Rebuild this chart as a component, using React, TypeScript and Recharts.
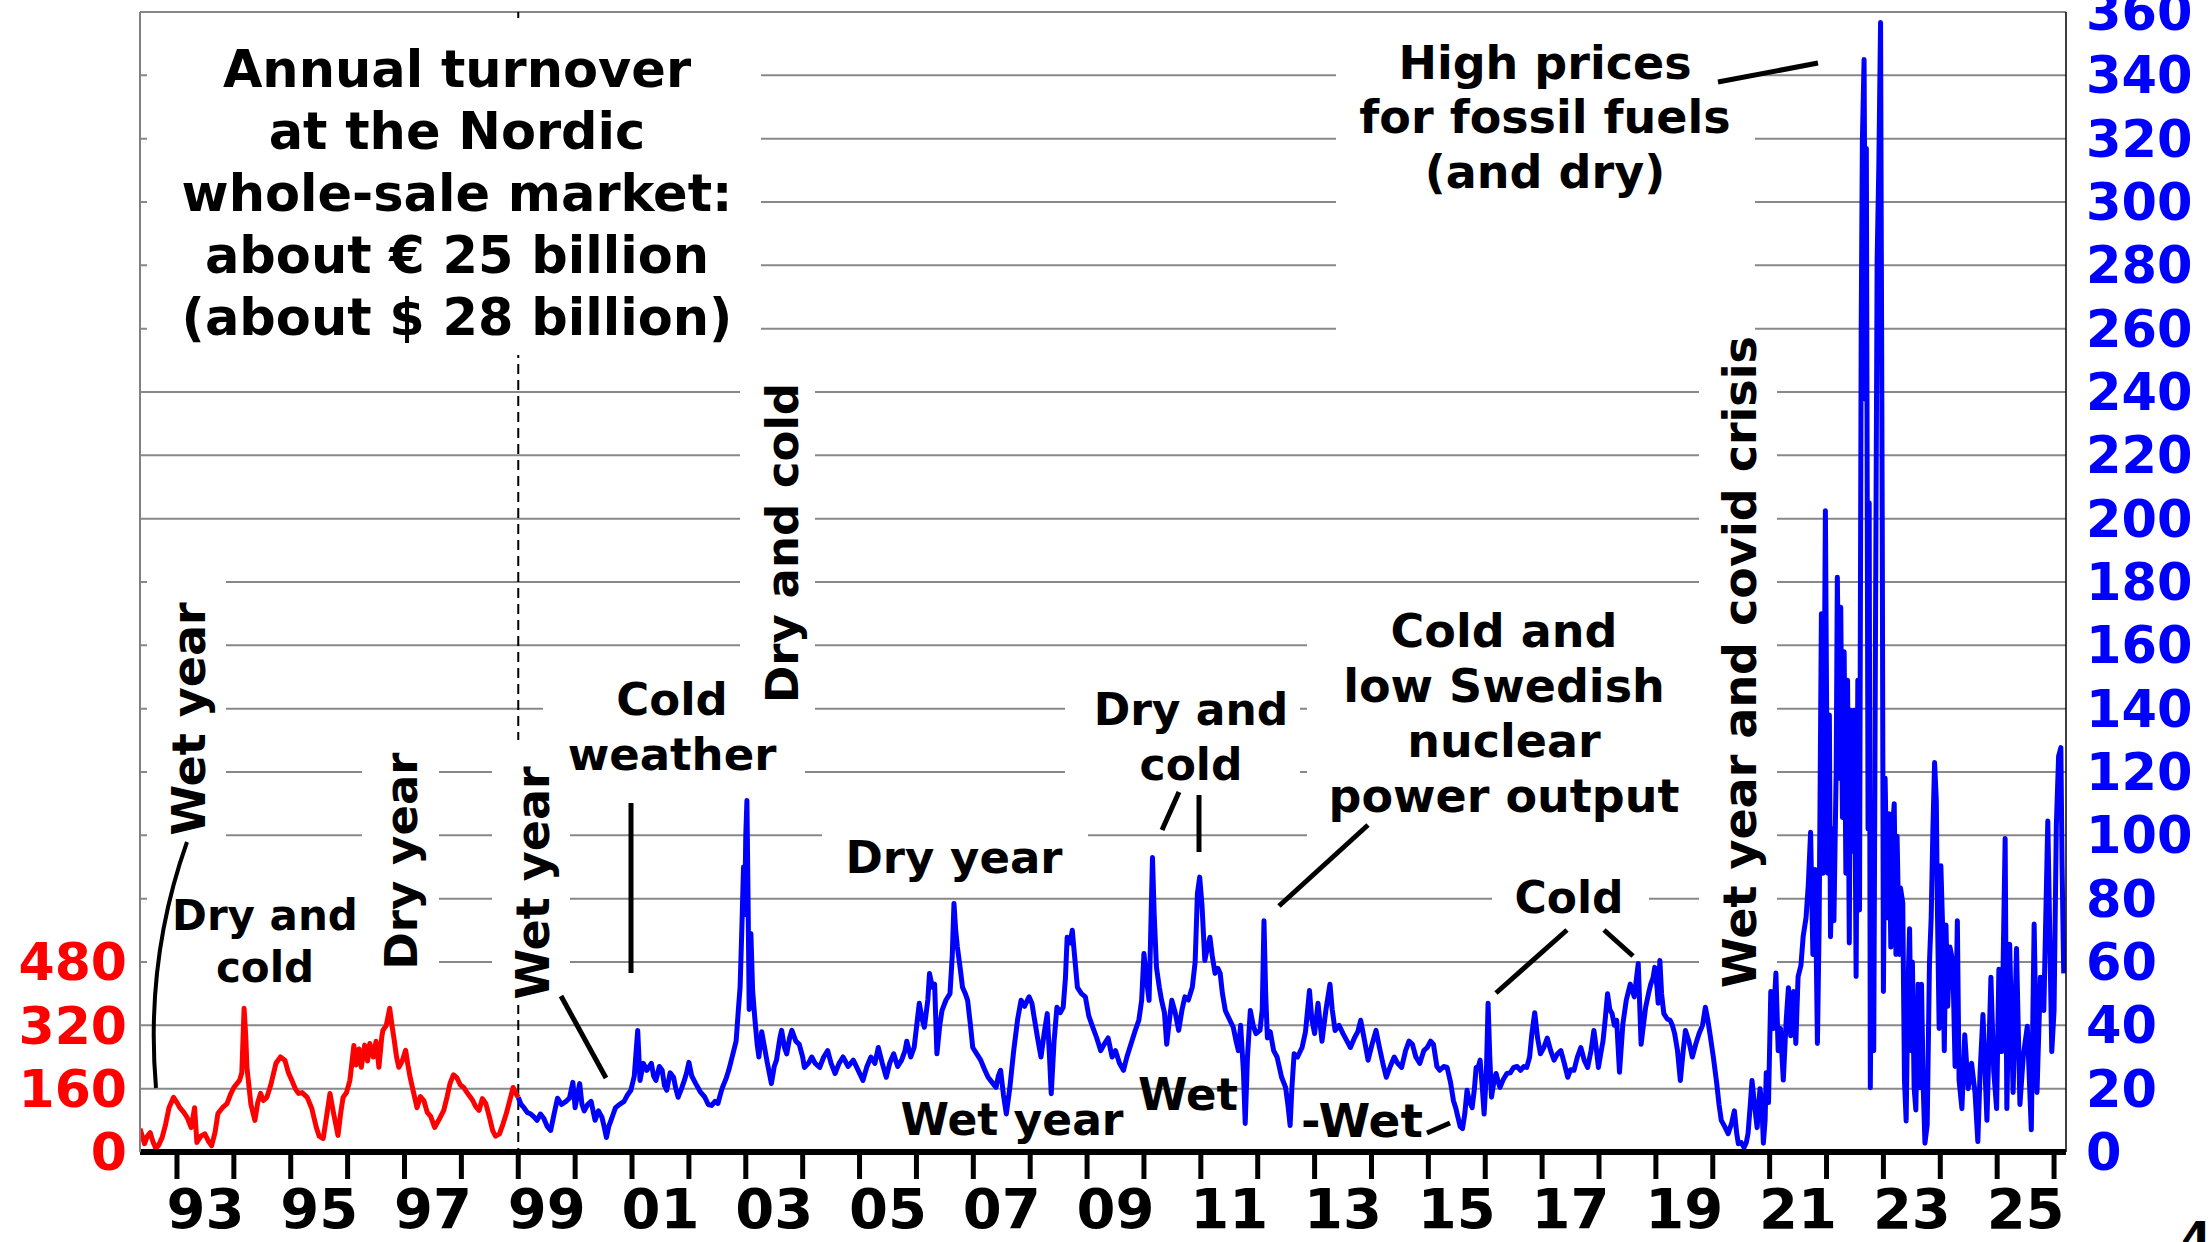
import React from 'react';
import { LineChart, Line, XAxis, YAxis, CartesianGrid, Customized } from 'recharts';

const W = 2210;
const H = 1242;
const FONT = '"DejaVu Sans", Verdana, sans-serif';

const PLOT_L = 140;
const PLOT_R = 2066;
const PLOT_T = 12;
const PLOT_B = 1152;
const X_MIN = 1992.35;
const X_MAX = 2026.21;

// Pre-1999 price (left axis, red)
const redYears = [
  1992.35, 1992.43, 1992.48, 1992.53, 1992.58, 1992.63, 1992.68, 1992.74, 1992.8, 1992.86, 1992.94,
  1993.0, 1993.05, 1993.12, 1993.18, 1993.25, 1993.31, 1993.35, 1993.42, 1993.49, 1993.55, 1993.61,
  1993.67, 1993.72, 1993.8, 1993.88, 1993.94, 1994.0, 1994.1, 1994.14, 1994.18, 1994.21, 1994.23,
  1994.3, 1994.37, 1994.42, 1994.47, 1994.52, 1994.58, 1994.65, 1994.74, 1994.82, 1994.9, 1994.96,
  1995.02, 1995.08, 1995.14, 1995.2, 1995.29, 1995.37, 1995.45, 1995.5, 1995.57, 1995.63, 1995.69,
  1995.75, 1995.83, 1995.88, 1995.92, 1995.98, 1996.04, 1996.11, 1996.15, 1996.2, 1996.24, 1996.3,
  1996.35, 1996.39, 1996.45, 1996.5, 1996.55, 1996.6, 1996.62, 1996.68, 1996.74, 1996.78, 1996.82,
  1996.86, 1996.9, 1996.96, 1997.02, 1997.06, 1997.1, 1997.16, 1997.22, 1997.28, 1997.34, 1997.4,
  1997.46, 1997.53, 1997.6, 1997.69, 1997.75, 1997.8, 1997.86, 1997.92, 1997.98, 1998.04, 1998.1,
  1998.15, 1998.2, 1998.25, 1998.31, 1998.37, 1998.43, 1998.49, 1998.55, 1998.6, 1998.67, 1998.73,
  1998.79, 1998.85, 1998.91, 1998.95, 1999.0,
];
const redPrices = [
  59, 21, 40, 49, 25, 9, 18, 37, 70, 112, 138,
  125, 112, 100, 87, 62, 112, 24, 40, 46, 28, 16,
  50, 97, 112, 122, 145, 163, 181, 200, 363, 290, 214,
  120, 80, 125, 148, 130, 138, 170, 224, 240, 231, 200,
  181, 160, 148, 150, 138, 110, 62, 40, 34, 90, 148,
  100, 42, 100, 138, 150, 181, 269, 220, 260, 214, 270,
  230, 274, 240, 280, 214, 290, 307, 320, 363, 320, 282,
  240, 214, 230, 257, 220, 188, 150, 112, 140, 130, 100,
  90, 62, 80, 105, 140, 173, 195, 188, 170, 163, 150,
  140, 130, 115, 105, 135, 122, 90, 54, 40, 46, 70,
  97, 130, 163, 150, 138,
];

// From 1999 (right axis, blue)
const blueYears = [
  1999.0, 1999.05, 1999.1, 1999.16, 1999.22, 1999.28, 1999.33, 1999.39, 1999.45, 1999.51, 1999.57,
  1999.63, 1999.69, 1999.76, 1999.84, 1999.9, 1999.96, 2000.0, 2000.04, 2000.08, 2000.12, 2000.16,
  2000.22, 2000.28, 2000.35, 2000.41, 2000.47, 2000.51, 2000.55, 2000.59, 2000.63, 2000.67, 2000.71,
  2000.78, 2000.86, 2000.92, 2000.98, 2001.04, 2001.1, 2001.14, 2001.2, 2001.26, 2001.34, 2001.38,
  2001.42, 2001.48, 2001.53, 2001.57, 2001.61, 2001.67, 2001.73, 2001.77, 2001.81, 2001.87, 2001.92,
  2001.96, 2002.0, 2002.05, 2002.12, 2002.2, 2002.28, 2002.34, 2002.4, 2002.46, 2002.51, 2002.55,
  2002.59, 2002.65, 2002.7, 2002.76, 2002.83, 2002.87, 2002.9, 2002.93, 2002.96, 2002.98, 2003.0,
  2003.02, 2003.04, 2003.06, 2003.09, 2003.12, 2003.16, 2003.2, 2003.23, 2003.28, 2003.32, 2003.38,
  2003.45, 2003.5, 2003.54, 2003.6, 2003.63, 2003.68, 2003.72, 2003.77, 2003.81, 2003.88, 2003.94,
  2004.0, 2004.03, 2004.1, 2004.16, 2004.22, 2004.3, 2004.37, 2004.44, 2004.5, 2004.57, 2004.64,
  2004.71, 2004.8, 2004.89, 2004.97, 2005.06, 2005.13, 2005.2, 2005.27, 2005.33, 2005.4, 2005.47,
  2005.53, 2005.6, 2005.67, 2005.74, 2005.8, 2005.83, 2005.9, 2005.96, 2006.05, 2006.1, 2006.14,
  2006.2, 2006.23, 2006.28, 2006.32, 2006.36, 2006.41, 2006.45, 2006.52, 2006.59, 2006.63, 2006.66,
  2006.69, 2006.72, 2006.77, 2006.81, 2006.86, 2006.9, 2006.95, 2006.99, 2007.06, 2007.13, 2007.2,
  2007.26, 2007.33, 2007.4, 2007.44, 2007.48, 2007.53, 2007.58, 2007.64, 2007.71, 2007.78, 2007.84,
  2007.9, 2007.98, 2008.03, 2008.07, 2008.13, 2008.19, 2008.25, 2008.3, 2008.34, 2008.37, 2008.42,
  2008.47, 2008.53, 2008.58, 2008.62, 2008.65, 2008.7, 2008.74, 2008.78, 2008.83, 2008.9, 2008.97,
  2009.03, 2009.1, 2009.17, 2009.24, 2009.3, 2009.37, 2009.44, 2009.5, 2009.57, 2009.64, 2009.7,
  2009.77, 2009.84, 2009.91, 2009.96, 2010.0, 2010.04, 2010.09, 2010.12, 2010.15, 2010.18, 2010.22,
  2010.27, 2010.31, 2010.36, 2010.4, 2010.45, 2010.49, 2010.55, 2010.61, 2010.67, 2010.72, 2010.78,
  2010.85, 2010.9, 2010.94, 2010.98, 2011.02, 2011.07, 2011.11, 2011.16, 2011.2, 2011.25, 2011.3,
  2011.34, 2011.38, 2011.43, 2011.5, 2011.57, 2011.62, 2011.66, 2011.7, 2011.75, 2011.78, 2011.82,
  2011.87, 2011.92, 2011.97, 2012.04, 2012.08, 2012.11, 2012.14, 2012.17, 2012.22, 2012.28, 2012.34,
  2012.42, 2012.49, 2012.53, 2012.57, 2012.6, 2012.64, 2012.7, 2012.78, 2012.84, 2012.91, 2012.95,
  2013.0, 2013.06, 2013.1, 2013.13, 2013.2, 2013.27, 2013.31, 2013.36, 2013.43, 2013.5, 2013.57,
  2013.63, 2013.7, 2013.76, 2013.81, 2013.88, 2013.94, 2014.01, 2014.08, 2014.14, 2014.2, 2014.26,
  2014.33, 2014.4, 2014.46, 2014.53, 2014.6, 2014.66, 2014.72, 2014.78, 2014.85, 2014.92, 2014.98,
  2015.04, 2015.09, 2015.15, 2015.2, 2015.27, 2015.33, 2015.39, 2015.44, 2015.48, 2015.52, 2015.56,
  2015.6, 2015.64, 2015.68, 2015.72, 2015.77, 2015.81, 2015.84, 2015.88, 2015.91, 2015.95, 2015.98,
  2016.02, 2016.05, 2016.08, 2016.11, 2016.15, 2016.19, 2016.23, 2016.26, 2016.32, 2016.38, 2016.44,
  2016.5, 2016.56, 2016.62, 2016.68, 2016.73, 2016.78, 2016.82, 2016.87, 2016.92, 2016.97, 2017.03,
  2017.09, 2017.15, 2017.21, 2017.27, 2017.33, 2017.39, 2017.45, 2017.5, 2017.56, 2017.62, 2017.68,
  2017.74, 2017.8, 2017.86, 2017.91, 2017.95, 2017.99, 2018.03, 2018.07, 2018.11, 2018.15, 2018.19,
  2018.23, 2018.27, 2018.31, 2018.36, 2018.42, 2018.48, 2018.55, 2018.62, 2018.66, 2018.69, 2018.74,
  2018.78, 2018.82, 2018.87, 2018.91, 2018.95, 2018.98, 2019.02, 2019.04, 2019.07, 2019.1, 2019.14,
  2019.2, 2019.25, 2019.29, 2019.33, 2019.38, 2019.43, 2019.48, 2019.52, 2019.58, 2019.64, 2019.7,
  2019.76, 2019.82, 2019.87, 2019.91, 2019.95, 2020.01, 2020.07, 2020.11, 2020.15, 2020.21, 2020.27,
  2020.33, 2020.38, 2020.42, 2020.45, 2020.5, 2020.55, 2020.59, 2020.62, 2020.66, 2020.69, 2020.74,
  2020.78, 2020.83, 2020.86, 2020.89, 2020.92, 2020.94, 2020.98, 2021.02, 2021.06, 2021.11, 2021.15,
  2021.19, 2021.24, 2021.29, 2021.33, 2021.37, 2021.42, 2021.46, 2021.5, 2021.55, 2021.59, 2021.64,
  2021.68, 2021.72, 2021.76, 2021.8, 2021.84, 2021.87, 2021.91, 2021.94, 2021.98, 2022.02, 2022.05,
  2022.07, 2022.11, 2022.13, 2022.17, 2022.19, 2022.23, 2022.25, 2022.28, 2022.31, 2022.34, 2022.37,
  2022.4, 2022.42, 2022.46, 2022.49, 2022.52, 2022.55, 2022.58, 2022.61, 2022.63, 2022.66, 2022.69,
  2022.7, 2022.73, 2022.75, 2022.77, 2022.8, 2022.83, 2022.86, 2022.89, 2022.92, 2022.95, 2022.98,
  2023.0, 2023.03, 2023.07, 2023.1, 2023.13, 2023.16, 2023.19, 2023.22, 2023.24, 2023.28, 2023.3,
  2023.34, 2023.37, 2023.4, 2023.43, 2023.46, 2023.49, 2023.51, 2023.54, 2023.57, 2023.61, 2023.64,
  2023.67, 2023.7, 2023.73, 2023.77, 2023.81, 2023.84, 2023.87, 2023.9, 2023.93, 2023.95, 2023.98,
  2024.01, 2024.04, 2024.07, 2024.1, 2024.13, 2024.17, 2024.22, 2024.26, 2024.3, 2024.33, 2024.38,
  2024.43, 2024.49, 2024.55, 2024.61, 2024.66, 2024.7, 2024.75, 2024.82, 2024.89, 2024.94, 2024.99,
  2025.03, 2025.08, 2025.14, 2025.17, 2025.22, 2025.28, 2025.34, 2025.4, 2025.46, 2025.53, 2025.6,
  2025.65, 2025.7, 2025.76, 2025.82, 2025.89, 2025.96, 2026.0, 2026.04, 2026.08, 2026.12, 2026.14,
  2026.17,
];
const bluePrices = [
  17.2, 15, 14, 12.5, 12, 11, 10, 12, 10.6, 8, 6.8,
  12, 17, 15, 16, 17, 22, 14, 18, 21.6, 15, 13,
  15, 16, 10, 13, 11, 8, 4.6, 8, 10, 12, 14,
  15, 16, 18, 19.5, 24, 38.4, 22.6, 28, 25.8, 28, 24,
  22.6, 27, 25.8, 21, 19.5, 25, 23.6, 20, 17.3, 20, 22.6,
  25, 28.3, 24, 21.6, 19, 17.3, 15, 14.7, 16, 15.3, 18,
  20.4, 23, 25.8, 30, 35, 45, 52, 70, 90, 75, 100,
  111, 80, 45, 69, 51, 42, 34, 30, 38, 34, 28,
  21.6, 27, 29, 36, 38.4, 33, 31, 36, 38.4, 35, 34,
  30, 26.7, 28, 30, 28, 26.7, 30, 32, 28, 24.8, 28,
  30, 27, 29, 26, 22.6, 27, 30, 28, 33, 28, 23.6,
  28, 31, 27, 29, 32, 35, 30, 33, 47, 42, 39.4,
  48, 56.4, 52, 53, 31, 40, 44.7, 48, 50, 62, 78.5,
  70, 64.7, 58, 52, 50, 47.9, 40, 33, 31, 29, 26,
  23.6, 22, 20.4, 24, 25.8, 18, 12, 20, 32, 42, 47.9,
  46, 49, 47, 42.5, 36, 30, 38, 43.7, 30, 18.4, 35,
  45.7, 44, 45.7, 55, 67.8, 66, 70, 62, 52, 50, 49,
  43, 39.4, 36, 32, 34, 36, 30, 32, 28, 25.8, 30,
  34, 38, 41.6, 48, 62.7, 55, 47.9, 70, 93, 75, 58.3,
  52, 47.9, 44, 34, 42, 47.9, 44, 38.4, 45, 49, 48,
  52, 60, 81.7, 86.8, 78, 60.5, 64, 67.8, 62, 56.4, 58,
  56.4, 50, 44.7, 42, 39.4, 35, 32, 40, 25, 9, 30,
  44.7, 40, 37.4, 38.4, 45, 73, 50, 36, 38, 32, 30,
  23.6, 20.4, 15, 8.4, 20, 31, 30, 33, 38, 51, 42,
  37.4, 47, 40, 35, 45, 53, 45, 38.4, 40, 37.4, 35,
  33, 36, 38, 41.6, 35, 29, 34, 38.4, 33, 28, 23.6,
  27, 30, 28, 26.7, 32, 35, 34, 30, 28, 32, 33,
  35, 34, 27, 25.8, 27, 26.7, 22, 16.3, 14, 11, 8,
  7.4, 12, 19.5, 16, 14, 20, 26.7, 27, 29, 20, 12,
  25, 47, 30, 17.3, 22, 24.8, 22, 20.4, 23, 24.8, 25,
  26.7, 27, 25.8, 27, 26.7, 30, 37.4, 44, 36, 31, 33,
  36, 32, 29, 31, 32, 28, 23.6, 26, 25.8, 30, 33,
  29, 26.7, 32, 38.4, 33, 26.7, 31, 35, 42, 50, 45,
  43.7, 40, 41.6, 25.2, 40.5, 48, 53, 49, 55, 59.5, 34,
  40, 45.7, 50, 53, 55, 58.3, 52, 47, 60.5, 50, 43.7,
  42, 41.6, 40, 37.4, 32, 22.6, 32, 38.4, 35, 30, 34,
  37.4, 40, 45.7, 42, 37.4, 30, 21.6, 15, 10, 8, 5.8,
  9, 13, 6, 2.6, 3, 1.4, 3, 5.8, 15, 22.6, 14,
  7.7, 20, 16.3, 2.8, 10, 25, 15.6, 50.7, 39, 56.5, 32,
  39, 22.7, 41.3, 51.9, 36.7, 50.7, 34.3, 55.4, 58.9, 68.2, 74,
  84.6, 101, 62.4, 89.2, 34.3, 71.7, 170, 88, 202.5, 88, 138,
  68, 102, 73, 121, 181.5, 118, 172, 105.6, 158, 88, 149,
  66, 139.5, 95, 139.5, 55.4, 149, 76.4, 261, 319, 345, 237.6,
  317, 102, 205, 20.3, 97.4, 32, 160.5, 282, 312, 356.7, 195.5,
  50.7, 118, 74, 106.8, 64.7, 102, 110, 62.4, 99.7, 62.4, 83.4,
  78.7, 22.7, 9.8, 50.7, 70.5, 32, 60, 20.3, 13.3, 53, 20.3,
  53, 20.3, 2.8, 8.6, 60, 74, 102, 123, 111, 76, 39,
  90.4, 71.7, 32, 71.7, 46, 64.7, 60, 27, 73, 22.7, 13.7,
  37, 20, 28, 18.8, 3.3, 25.4, 43.4, 10, 55.2, 25.4, 13.7,
  57.7, 31.7, 99, 13.7, 65.6, 18.8, 64.3, 15, 30.5, 39.7, 7,
  72, 18.8, 55.2, 44.7, 104.5, 31.7, 44.7, 103, 125, 127.7, 91.5,
  56.4,
];

const yearTicks = [
  1993, 1994, 1995, 1996, 1997, 1998, 1999, 2000, 2001, 2002, 2003, 2004, 2005, 2006, 2007, 2008, 2009,
  2010, 2011, 2012, 2013, 2014, 2015, 2016, 2017, 2018, 2019, 2020, 2021, 2022, 2023, 2024, 2025, 2026,
];
const yearLabelTicks = [
  1993.5, 1995.5, 1997.5, 1999.5, 2001.5, 2003.5, 2005.5, 2007.5, 2009.5, 2011.5, 2013.5, 2015.5,
  2017.5, 2019.5, 2021.5, 2023.5, 2025.5,
];
const leftTicks = [0, 160, 320, 480];
const rightTicks = [0, 20, 40, 60, 80, 100, 120, 140, 160, 180, 200, 220, 240, 260, 280, 300, 320, 340, 360];

const redData = redYears.map((t, i) => ({ t, v: redPrices[i] }));
const blueData = blueYears.map((t, i) => ({ t, v: bluePrices[i] }));
const allXTicks = [...yearTicks, ...yearLabelTicks].sort((a, b) => a - b);

const xOf = (yr: number) => PLOT_L + ((yr - X_MIN) * (PLOT_R - PLOT_L)) / (X_MAX - X_MIN);

// white label backgrounds [x1, y1, x2, y2]
const boxes = [
  [147, 18, 761, 355],
  [1336, 18, 1755, 352],
  [147, 565, 226, 850],
  [147, 860, 372, 998],
  [362, 740, 439, 995],
  [492, 740, 570, 1005],
  [543, 652, 805, 785],
  [740, 370, 815, 715],
  [822, 820, 1088, 890],
  [1065, 660, 1300, 795],
  [1307, 598, 1699, 850],
  [1492, 868, 1649, 930],
  [1699, 330, 1777, 1040],
];

const Boxes = () => (
  <g>
    <line x1={xOf(1999)} x2={xOf(1999)} y1={PLOT_T} y2={PLOT_B} stroke="#000" strokeWidth={2} strokeDasharray="10 6" />
    {boxes.map((b, i) => (
      <rect key={i} x={b[0]} y={b[1]} width={b[2] - b[0]} height={b[3] - b[1]} fill="#ffffff" />
    ))}
  </g>
);

const XTick = (props: any) => {
  const { x, y, payload } = props;
  const v = payload.value as number;
  if (Number.isInteger(v)) {
    return <line x1={x} x2={x} y1={y - 3} y2={y + 27} stroke="#000" strokeWidth={5} />;
  }
  const label = String(Math.floor(v) % 100).padStart(2, '0');
  return (
    <text x={x} y={y + 76} textAnchor="middle" fontSize={56} fontWeight="bold" fontFamily={FONT} fill="#000">
      {label}
    </text>
  );
};

type HT = { x: number; y: number; s: number; t: string };
const hTexts: HT[] = [
  { x: 457, y: 87, s: 51, t: 'Annual turnover' },
  { x: 457, y: 149, s: 51, t: 'at the Nordic' },
  { x: 457, y: 211, s: 51, t: 'whole-sale market:' },
  { x: 457, y: 273, s: 51, t: 'about € 25 billion' },
  { x: 457, y: 335, s: 51, t: '(about $ 28 billion)' },
  { x: 265, y: 930, s: 42, t: 'Dry and' },
  { x: 265, y: 982, s: 42, t: 'cold' },
  { x: 672, y: 715, s: 45, t: 'Cold' },
  { x: 672, y: 770, s: 45, t: 'weather' },
  { x: 954, y: 873, s: 45, t: 'Dry year' },
  { x: 1012, y: 1135, s: 44, t: 'Wet year' },
  { x: 1191, y: 725, s: 44, t: 'Dry and' },
  { x: 1191, y: 780, s: 44, t: 'cold' },
  { x: 1188, y: 1110, s: 45, t: 'Wet' },
  { x: 1504, y: 647, s: 46, t: 'Cold and' },
  { x: 1504, y: 702, s: 46, t: 'low Swedish' },
  { x: 1504, y: 757, s: 46, t: 'nuclear' },
  { x: 1504, y: 812, s: 46, t: 'power output' },
  { x: 1362, y: 1137, s: 47, t: '-Wet' },
  { x: 1569, y: 913, s: 44, t: 'Cold' },
  { x: 1545, y: 79, s: 46, t: 'High prices' },
  { x: 1545, y: 133, s: 46, t: 'for fossil fuels' },
  { x: 1545, y: 188, s: 46, t: '(and dry)' },
];
const vTexts: HT[] = [
  { x: 188, y: 719, s: 46, t: 'Wet year' },
  { x: 401, y: 861, s: 45, t: 'Dry year' },
  { x: 532, y: 883, s: 46, t: 'Wet year' },
  { x: 782, y: 543, s: 45, t: 'Dry and cold' },
  { x: 1739, y: 662, s: 46, t: 'Wet year and covid crisis' },
];
const leaders = [
  [561, 996, 606, 1078],
  [631, 803, 631, 973],
  [1179, 792, 1162, 830],
  [1199, 795, 1199, 852],
  [1368, 825, 1279, 906],
  [1427, 1133, 1450, 1123],
  [1567, 930, 1496, 993],
  [1604, 930, 1633, 956],
  [1718, 82, 1818, 63],
];

const Overlay = () => (
  <svg width={W} height={H} style={{ position: 'absolute', left: 0, top: 0, pointerEvents: 'none' }}>
    <path d="M187,842 Q145,960 156,1088" fill="none" stroke="#000" strokeWidth={4} />
    {leaders.map((l, i) => (
      <line key={i} x1={l[0]} y1={l[1]} x2={l[2]} y2={l[3]} stroke="#000" strokeWidth={5} />
    ))}
    {hTexts.map((h, i) => (
      <text key={i} x={h.x} y={h.y} textAnchor="middle" fontSize={h.s} fontWeight="bold" fontFamily={FONT} fill="#000">
        {h.t}
      </text>
    ))}
    {vTexts.map((v, i) => (
      <text
        key={i}
        transform={`translate(${v.x},${v.y}) rotate(-90)`}
        x={0}
        y={v.s * 0.36}
        textAnchor="middle"
        fontSize={v.s}
        fontWeight="bold"
        fontFamily={FONT}
        fill="#000"
      >
        {v.t}
      </text>
    ))}
    <text x={2181} y={1254} fontSize={44} fontWeight="bold" fontFamily={FONT} fill="#000">4</text>
  </svg>
);

export default function App() {
  return (
    <div style={{ position: 'absolute', left: 0, top: 0, width: W, height: H, background: '#fff', fontFamily: FONT, overflow: 'hidden' }}>
      <LineChart width={W} height={H} margin={{ top: PLOT_T, right: 0, bottom: 0, left: 0 }}>
        <CartesianGrid yAxisId="right" vertical={false} stroke="#888" strokeWidth={2} />
        <XAxis
          dataKey="t"
          type="number"
          domain={[X_MIN, X_MAX]}
          allowDataOverflow
          ticks={allXTicks}
          interval={0}
          height={H - PLOT_B}
          tickSize={0}
          tickMargin={0}
          tickLine={false}
          axisLine={{ stroke: '#000', strokeWidth: 6 }}
          tick={<XTick />}
        />
        <YAxis
          yAxisId="left"
          orientation="left"
          width={PLOT_L}
          domain={[0, 2880]}
          ticks={leftTicks}
          interval={0}
          tickSize={0}
          tickMargin={13}
          tickLine={false}
          axisLine={{ stroke: '#808080', strokeWidth: 2 }}
          tick={{ fill: '#ff0000', fontSize: 52, fontWeight: 'bold', fontFamily: FONT }}
        />
        <YAxis
          yAxisId="right"
          orientation="right"
          width={W - PLOT_R}
          domain={[0, 360]}
          ticks={rightTicks}
          interval={0}
          tickSize={0}
          tickMargin={20}
          tickLine={false}
          axisLine={{ stroke: '#000', strokeWidth: 1.5 }}
          tick={{ fill: '#0000ff', fontSize: 51, fontWeight: 'bold', fontFamily: FONT }}
        />
        <Customized component={Boxes} />
        <Line data={redData} dataKey="v" yAxisId="left" type="linear" stroke="#ff0000" strokeWidth={5} strokeLinejoin="round" dot={false} isAnimationActive={false} />
        <Line data={blueData} dataKey="v" yAxisId="right" type="linear" stroke="#0000ff" strokeWidth={5} strokeLinejoin="round" dot={false} isAnimationActive={false} />
      </LineChart>
      <Overlay />
    </div>
  );
}
